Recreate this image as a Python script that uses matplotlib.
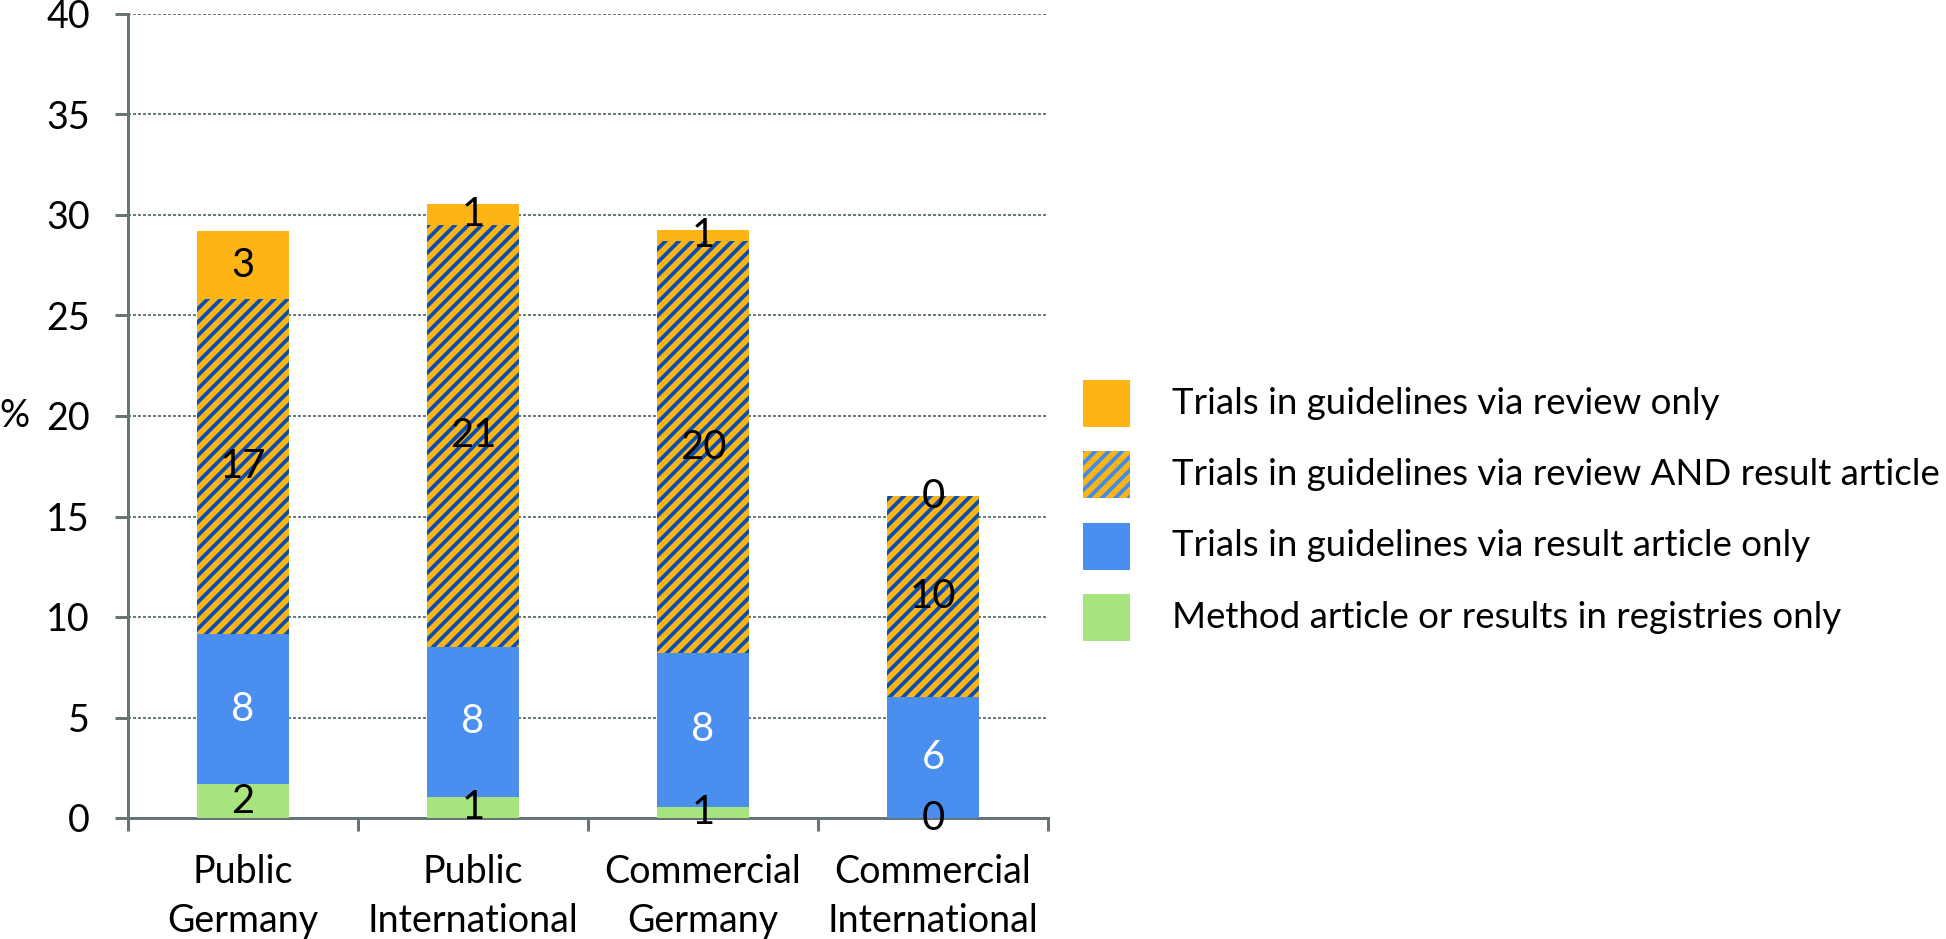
import numpy as np
import matplotlib
matplotlib.use("Agg")
import matplotlib.pyplot as plt
from matplotlib.patches import Rectangle

# data (percent of trials)
categories = ["Public\nGermany", "Public\nInternational", "Commercial\nGermany", "Commercial\nInternational"]
method_only = [1.67, 1.05, 0.56, 0.0]
result_only = [7.47, 7.47, 7.64, 6.0]
review_and_result = [16.66, 20.98, 20.5, 10.0]
review_only = [3.4, 1.05, 0.56, 0.0]

lbl_method = ["2", "1", "1", "0"]
lbl_result = ["8", "8", "8", "6"]
lbl_both = ["17", "21", "20", "10"]
lbl_review = ["3", "1", "1", "0"]

legend_labels = [
    "Trials in guidelines via review only",
    "Trials in guidelines via review AND result article",
    "Trials in guidelines via result article only",
    "Method article or results in registries only",
]

ORANGE = "#FDB515"
DARKBLUE = "#0B4FB3"
BLUE = "#4A8EF0"
GREEN = "#A8E47E"
LIGHTSTRIPE = "#3F8CEB"
AXCOL = "#657575"

DPI = 160
PT = 72 / DPI  # points per pixel

plt.rcParams["font.family"] = ["Lato", "DejaVu Sans"]
plt.rcParams["hatch.linewidth"] = 3.8 * PT
FS = 37.7 * PT
FS_LBL = 40 * PT

fig = plt.figure(figsize=(1946 / DPI, 939 / DPI), dpi=DPI)
ax = fig.add_axes([128 / 1946, 1 - 818 / 939, 920 / 1946, 804 / 939])

x = np.arange(len(categories))
w = 0.4
b1 = np.array(method_only)
b2 = b1 + np.array(result_only)
b3 = b2 + np.array(review_and_result)

ax.bar(x, method_only, w, color=GREEN, linewidth=0, zorder=3)
ax.bar(x, result_only, w, bottom=b1, color=BLUE, linewidth=0, zorder=3)
ax.bar(x, review_and_result, w, bottom=b2, facecolor=ORANGE, edgecolor=DARKBLUE,
       hatch="////", linewidth=0, zorder=3)
ax.bar(x, review_only, w, bottom=b3, color=ORANGE, linewidth=0, zorder=3)

# segment labels
for i in range(len(categories)):
    ax.text(x[i], method_only[i] / 2, lbl_method[i], ha="center", va="center",
            fontsize=FS_LBL, color="black", zorder=5)
    ax.text(x[i], b1[i] + result_only[i] / 2, lbl_result[i], ha="center", va="center",
            fontsize=FS_LBL, color="white", zorder=5)
    ax.text(x[i], b2[i] + review_and_result[i] / 2, lbl_both[i], ha="center", va="center",
            fontsize=FS_LBL, color="black", zorder=5)
    ax.text(x[i], b3[i] + review_only[i] / 2, lbl_review[i], ha="center", va="center",
            fontsize=FS_LBL, color="black", zorder=5)

ax.set_xlim(-0.5, 3.5)
ax.set_ylim(0, 40)
ax.set_yticks(np.arange(0, 41, 5))
ax.tick_params(axis="y", length=13 * PT, width=3 * PT, color=AXCOL, pad=25 * PT,
               labelsize=FS)

# category boundaries as major ticks, labels on minor ticks
ax.set_xticks(np.arange(-0.5, 4, 1))
ax.set_xticklabels([])
ax.set_xticks(x, minor=True)
ax.set_xticklabels(categories, minor=True, fontsize=FS, linespacing=1.45)
ax.tick_params(axis="x", which="major", length=13 * PT, width=3 * PT, color=AXCOL)
ax.tick_params(axis="x", which="minor", length=0, pad=36 * PT)

for s in ["top", "right"]:
    ax.spines[s].set_visible(False)
for s in ["left", "bottom"]:
    ax.spines[s].set_color(AXCOL)
    ax.spines[s].set_linewidth(3 * PT)

for yv in np.arange(5, 41, 5):
    ax.axhline(yv, color="#6C7C7C", linewidth=2 * PT, linestyle=(0, (1.5, 1)), zorder=1)

ax.set_ylabel("%", rotation=0, fontsize=FS, va="center", ha="center")
ax.yaxis.set_label_coords(-0.123, 0.5)

# legend drawn by hand
leg_y = [403, 474.5, 546, 617.5]
leg_face = [ORANGE, ORANGE, BLUE, GREEN]
leg_hatch = [None, "////", None, None]
leg_edge = [ORANGE, LIGHTSTRIPE, BLUE, GREEN]
for yy, lab, fc, hc, ec in zip(leg_y, legend_labels, leg_face, leg_hatch, leg_edge):
    r = Rectangle((1083 / 1946, 1 - (yy + 23.5) / 939), 47 / 1946, 47 / 939,
                  transform=fig.transFigure, facecolor=fc, edgecolor=ec,
                  hatch=hc, linewidth=0)
    fig.add_artist(r)
    fig.text(1172 / 1946, 1 - yy / 939, lab, fontsize=36.6 * PT, va="center", ha="left")

fig.savefig("out.png", dpi=DPI)
